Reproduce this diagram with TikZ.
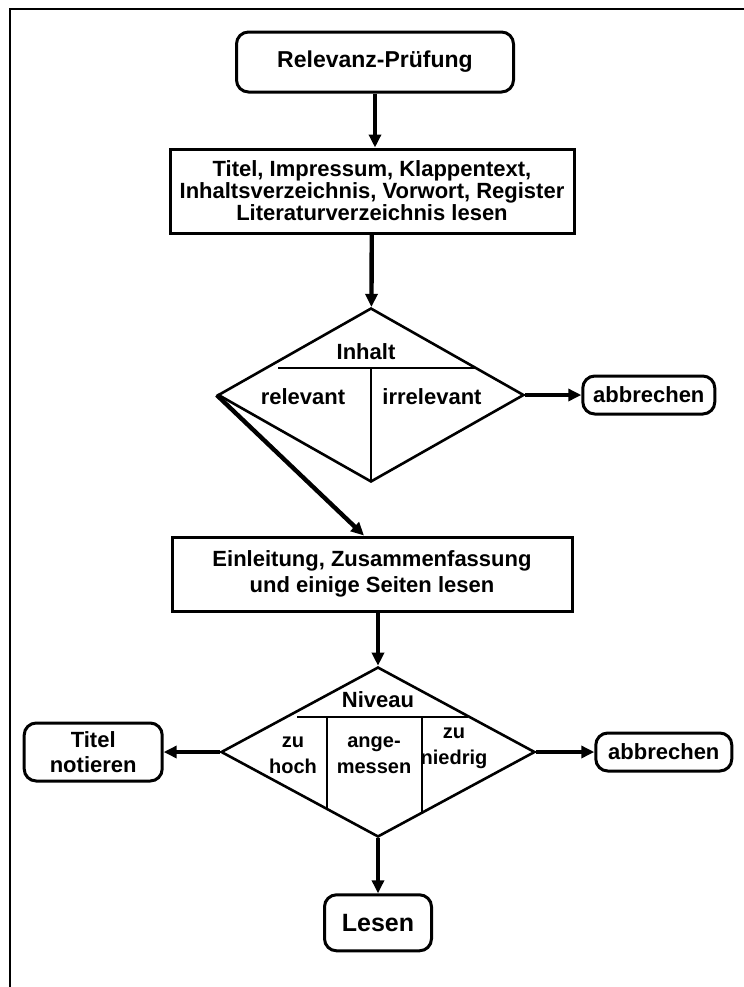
\documentclass[tikz,border=0pt]{standalone}
\usepackage{fontspec}
\setmainfont{Liberation Sans}
\usetikzlibrary{positioning, shapes.geometric, arrows.meta}

\begin{document}
\begin{tikzpicture}[x=0.5pt, y=-0.5pt, node distance=28pt,
    font=\bfseries\fontsize{11}{12.5}\selectfont,
    terminalBox/.style={draw, line width=1.5pt, rounded corners=6pt, align=center, inner sep=2pt},
    processBox/.style={draw, line width=1.5pt, align=center, inner sep=1pt},
    decisionShape/.style={draw, diamond, line width=1.3pt, inner sep=0pt},
    fieldLabel/.style={inner sep=0pt, align=center},
    narrowLabel/.style={fieldLabel, font=\bfseries\fontsize{10}{13}\selectfont},
    flowArrow/.style={line width=2.2pt, -{Triangle[length=6.5pt, width=6pt]}},
    splitLine/.style={line width=1pt}]
    \useasboundingbox (0,0) rectangle (744,987);
    \draw[line width=1pt] (10,987) -- (10,9) -- (744,9);

    \node[terminalBox, minimum width=138.5pt, minimum height=30pt, font=\bfseries\fontsize{11.5}{13}\selectfont] (relevanceCheck) at (375,62) {Relevanz-Prüfung};
    \node[processBox, minimum width=202pt, minimum height=42pt] (readFront) at (372,191) {Titel, Impressum, Klappentext,\\[-1.5pt] Inhaltsverzeichnis, Vorwort, Register\\[-1.5pt] Literaturverzeichnis lesen};

    \node[decisionShape, minimum width=153pt, minimum height=87pt] (diamondOne) at (371,395) {};
    \node[fieldLabel] (contentLabel) at (366,352) {Inhalt};
    \node[fieldLabel] (relevantLabel) at (303,397) {relevant};
    \node[fieldLabel] (irrelevantLabel) at (432,397) {irrelevant};
    \draw[splitLine] (278,368) -- (475,368);
    \draw[splitLine] (371,368) -- (371,482);
    \node[terminalBox, right = 28pt of diamondOne, minimum width=66pt, minimum height=19pt] (abortOne) {abbrechen};

    \node[processBox, minimum width=200pt, minimum height=37pt] (readIntro) at (372,574) {Einleitung, Zusammenfassung\\[0.5pt] und einige Seiten lesen};

    \node[decisionShape, minimum width=157pt, minimum height=85pt] (diamondTwo) at (378,752) {};
    \node[fieldLabel] (levelLabel) at (378,700) {Niveau};
    \node[narrowLabel] (tooHighLabel) at (293,755) {zu\\hoch};
    \node[narrowLabel] (adequateLabel) at (374,755) {ange-\\messen};
    \node[narrowLabel] (tooLowLabel) at (454,748) {zu\\niedrig};
    \draw[splitLine] (297,717) -- (468,717);
    \draw[splitLine] (327,717) -- (327,809);
    \draw[splitLine] (422,717) -- (422,813);
    \node[terminalBox, left = 28pt of diamondTwo, minimum width=69pt, minimum height=29pt] (noteTitle) {Titel\\ notieren};
    \node[terminalBox, right = 29pt of diamondTwo, minimum width=68pt, minimum height=19pt] (abortTwo) {abbrechen};
    \node[terminalBox, below = 27.5pt of diamondTwo, minimum width=53.5pt, minimum height=28pt, font=\bfseries\fontsize{12.5}{14}\selectfont] (readBook) {Lesen};

    \draw[flowArrow] (relevanceCheck) -- (relevanceCheck |- readFront.north);
    \draw[flowArrow] (readFront) -- (diamondOne);
    \draw[flowArrow] (diamondOne) -- (abortOne);
    \draw[flowArrow] (diamondOne.west) -- ([xshift=-4pt]readIntro.north);
    \draw[flowArrow] (readIntro.south -| diamondTwo) -- (diamondTwo);
    \draw[flowArrow] (diamondTwo) -- (noteTitle);
    \draw[flowArrow] (diamondTwo) -- (abortTwo);
    \draw[flowArrow] (diamondTwo) -- (readBook);
\end{tikzpicture}
\end{document}
